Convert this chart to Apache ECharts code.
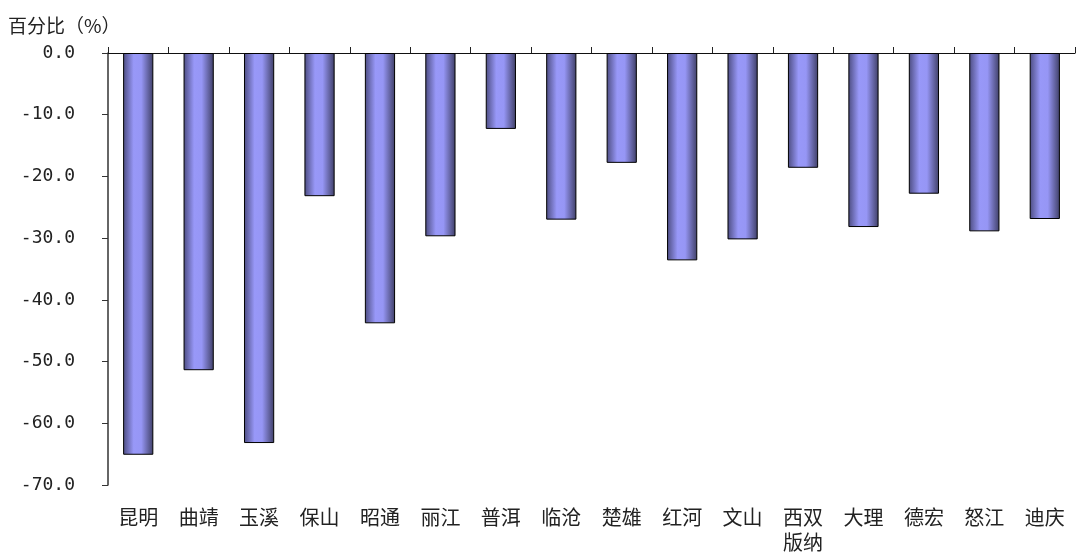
<!DOCTYPE html>
<html><head><meta charset="utf-8">
<script src="https://cdn.jsdelivr.net/npm/echarts@6/dist/echarts.min.js"></script>
<style>html,body{margin:0;padding:0;background:#fff}#c{width:1078px;height:555px}</style>
</head><body><div id="c"></div>
<script>
var categories = ['昆明','曲靖','玉溪','保山','昭通','丽江','普洱','临沧','楚雄','红河','文山','西双\n版纳','大理','德宏','怒江','迪庆'];
var values = [-65.1,-51.4,-63.2,-23.2,-43.8,-29.7,-12.3,-27.0,-17.8,-33.6,-30.2,-18.6,-28.2,-22.8,-28.9,-26.9];
var yTitle = '百分比（%）';
var font = '"Noto Sans CJK SC", sans-serif';
var chart = echarts.init(document.getElementById('c'));
chart.setOption({
  animation: false,
  backgroundColor: '#fff',
  grid: {left: 108, right: 3, top: 53, bottom: 69},
  graphic: [{type: 'text', left: 8, top: 16, style: {text: yTitle, font: '19px ' + font, fill: '#222'}}],
  xAxis: [{
    type: 'category', data: categories, position: 'top',
    axisLine: {lineStyle: {color: '#111', width: 1.2}},
    axisTick: {show: true, length: 6, lineStyle: {color: '#222'}},
    axisLabel: {show: false}
  }, {
    type: 'category', data: categories, position: 'bottom', offset: 0,
    axisLine: {show: false}, axisTick: {show: false},
    axisLabel: {color: '#222', fontSize: 20, fontFamily: font, margin: 20, lineHeight: 25, interval: 0}
  }],
  yAxis: {
    type: 'value', min: -70, max: 0, interval: 10,
    axisLine: {show: true, lineStyle: {color: '#333', width: 1.5}},
    axisTick: {show: true, length: 6, lineStyle: {color: '#333'}},
    splitLine: {show: false},
    axisLabel: {color: '#222', fontSize: 18, fontFamily: '"DejaVu Sans Mono", monospace', margin: 33,
      formatter: function(v){ return v.toFixed(1); }}
  },
  series: [{
    type: 'bar', data: values, barWidth: '50%', xAxisIndex: 0,
    itemStyle: {
      borderColor: '#000', borderWidth: 1,
      color: new echarts.graphic.LinearGradient(0,0,1,0,[
        {offset:0,color:'#4c4c80'},{offset:0.35,color:'#9898f8'},
        {offset:0.6,color:'#9696f5'},{offset:1,color:'#3f3f66'}])
    }
  }]
});
</script></body></html>
